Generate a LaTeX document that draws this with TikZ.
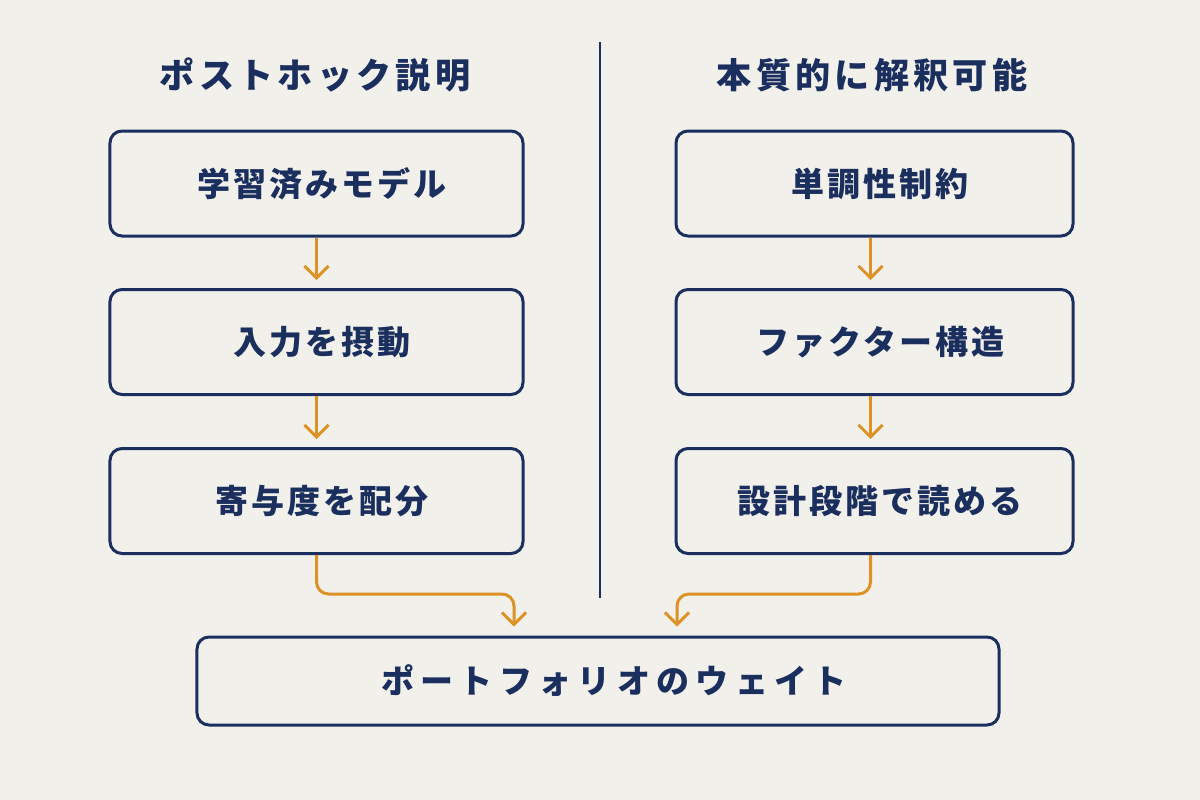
\documentclass[tikz,border=0pt]{standalone}
\usepackage{fontspec}
\usepackage{xcolor}
\usetikzlibrary{arrows.meta,calc}
\newfontfamily\jpfont{Noto Sans CJK JP}[LetterSpace=9]
\newfontfamily\jphead{Noto Sans CJK JP}[LetterSpace=12]
\newfontfamily\jpwide{Noto Sans CJK JP}[LetterSpace=19]
\definecolor{navy}{HTML}{1B2F5E}
\definecolor{amber}{HTML}{DE9226}
\definecolor{paper}{HTML}{F2F0EB}
\tikzset{
  flowbox/.style={
    shape = rectangle,
    draw = navy,
    line width = 0.75mm,
    rounded corners = 3mm,
    minimum height = 26.25mm,
    text = navy,
    font = \jpfont\bfseries\fontsize{23.5}{28}\selectfont,
    execute at begin node = {\hspace*{3mm}}
  },
  heading/.style={
    text = navy,
    font = \jphead\bfseries\fontsize{25}{30}\selectfont
  },
  flowarrow/.style={
    draw = amber,
    line width = 0.75mm,
    rounded corners = 3mm,
    -{Straight Barb[length=3mm,width=6mm]}
  }
}
\begin{document}
\begin{tikzpicture}[x=0.25mm,y=-0.25mm]
    \def\lx{316.5}
    \def\rx{874.5}
    \def\ya{183.5}
    \def\yb{342}
    \def\yc{501}
    \fill[paper] (0,0) rectangle (1200,800);
    % headings and divider
    \node[heading] (hl) at (315,75) {ポストホック説明};
    \node[heading] (hr) at (872,75) {本質的に解釈可能};
    \coordinate (divtop) at (600,42);
    \coordinate (divbot) at (600,598);
    \draw[navy,line width=0.5mm] (divtop) -- (divbot);
    % left column
    \node[flowbox,minimum width=103.25mm] (l1) at (\lx,\ya) {学習済みモデル};
    \node[flowbox,minimum width=103.25mm] (l2) at (\lx,\yb) {入力を摂動};
    \node[flowbox,minimum width=103.25mm] (l3) at (\lx,\yc) {寄与度を配分};
    % right column
    \node[flowbox,minimum width=99.25mm] (r1) at (\rx,\ya) {単調性制約};
    \node[flowbox,minimum width=99.25mm] (r2) at (\rx,\yb) {ファクター構造};
    \node[flowbox,minimum width=99.25mm] (r3) at (\rx,\yc) {設計段階で読める};
    % output
    \node[flowbox,minimum width=200.5mm,minimum height=22mm,
      font=\jpwide\bfseries\fontsize{23.5}{28}\selectfont,
      execute at begin node={\hspace*{5mm}}] (out) at (598,681) {ポートフォリオのウェイト};
    \coordinate (lin) at (514,594);
    \coordinate (rin) at (677,594);
    % connectors
    \draw[flowarrow,shorten >=2mm] (l1) -- (l2);
    \draw[flowarrow,shorten >=2mm] (l2) -- (l3);
    \draw[flowarrow,shorten >=2mm] ([xshift=-1mm]r1.south) -- ([xshift=-1mm]r2.north);
    \draw[flowarrow,shorten >=2mm] ([xshift=-1mm]r2.south) -- ([xshift=-1mm]r3.north);
    \draw[flowarrow,shorten >=2.25mm] (l3.south) -- (l3.south |- lin) -- (lin) -- (lin |- out.north);
    \draw[flowarrow,shorten >=2.25mm] ([xshift=-1mm]r3.south) -- ([xshift=-1mm]r3.south |- rin) -- (rin) -- (rin |- out.north);
\end{tikzpicture}
\end{document}
